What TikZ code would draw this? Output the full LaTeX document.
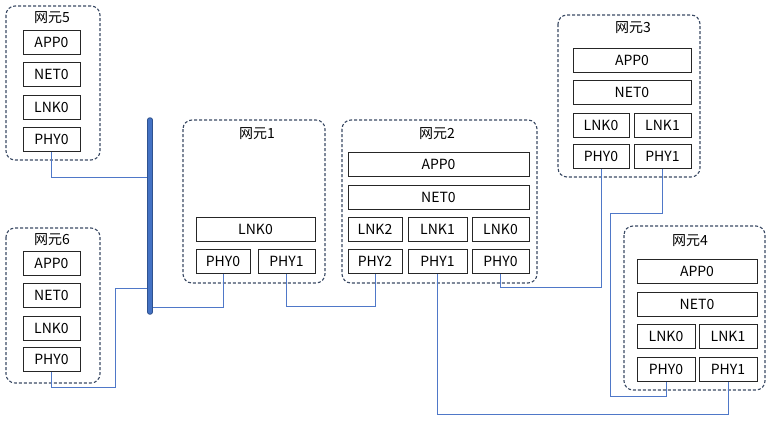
\documentclass[tikz,border=0pt]{standalone}
\usepackage{fontspec}
\setmainfont{Noto Sans CJK SC}
\usetikzlibrary{calc}
\definecolor{nebord}{RGB}{58,74,100}
\definecolor{linkblue}{RGB}{79,120,200}
\definecolor{busblue}{RGB}{68,114,196}
\definecolor{busedge}{RGB}{47,82,143}
\tikzset{
  layer/.style={draw=black!85, line width=0.8pt, minimum height=24pt, inner sep=0pt, font=\fontsize{14}{14}\selectfont},
  nebox/.style={draw=nebord, line width=1.1pt, dash pattern=on 3pt off 2pt, rounded corners=9pt},
  netitle/.style={inner sep=0pt, font=\fontsize{14}{14}\selectfont},
  link/.style={draw=linkblue, line width=0.9pt},
}

\begin{document}
\begin{tikzpicture}[x=1pt, y=-1pt]
			%%%%% START %%%%%
			\useasboundingbox (0,0) rectangle (771,423);
			
			% 网元5
			\draw[nebox] (6,6) rectangle (100,160);
			\node[netitle] (t5) at (52,18) {网元5};
			\node[layer, minimum width=57pt] (n5app) at (51.5,42.5) {APP0};
			\node[layer, minimum width=57pt] (n5net) at (51.5,74.5) {NET0};
			\node[layer, minimum width=57pt] (n5lnk) at (51.5,107.5) {LNK0};
			\node[layer, minimum width=57pt] (n5phy) at (51.5,139.5) {PHY0};
			
			% 网元6
			\draw[nebox] (6,228) rectangle (100,383);
			\node[netitle] (t6) at (52,240) {网元6};
			\node[layer, minimum width=57pt] (n6app) at (51.5,263) {APP0};
			\node[layer, minimum width=57pt] (n6net) at (51.5,295) {NET0};
			\node[layer, minimum width=57pt] (n6lnk) at (51.5,328) {LNK0};
			\node[layer, minimum width=57pt] (n6phy) at (51.5,359.5) {PHY0};
			
			% 网元1
			\draw[nebox] (183,120) rectangle (325,283);
			\node[netitle] (t1) at (257,134) {网元1};
			\node[layer, minimum width=119pt] (n1lnk0) at (255.5,229.5) {LNK0};
			\node[layer, minimum width=54pt] (n1phy0) at (223,261.5) {PHY0};
			\node[layer, minimum width=57pt] (n1phy1) at (286.5,261.5) {PHY1};
			
			% 网元2
			\draw[nebox] (342,120) rectangle (537,283);
			\node[netitle] (t2) at (437,134) {网元2};
			\node[layer, minimum width=181pt] (n2app) at (438.5,164.5) {APP0};
			\node[layer, minimum width=181pt] (n2net) at (438.5,197) {NET0};
			\node[layer, minimum width=54pt] (n2lnk2) at (375,229.5) {LNK2};
			\node[layer, minimum width=59pt] (n2lnk1) at (437.5,229.5) {LNK1};
			\node[layer, minimum width=57pt] (n2lnk0) at (500.5,229.5) {LNK0};
			\node[layer, minimum width=54pt] (n2phy2) at (375,261.5) {PHY2};
			\node[layer, minimum width=59pt] (n2phy1) at (437.5,261.5) {PHY1};
			\node[layer, minimum width=57pt] (n2phy0) at (500.5,261.5) {PHY0};
			
			% 网元3
			\draw[nebox] (558,15) rectangle (700,177);
			\node[netitle] (t3) at (633,28) {网元3};
			\node[layer, minimum width=118pt] (n3app) at (632,60) {APP0};
			\node[layer, minimum width=118pt] (n3net) at (632,92) {NET0};
			\node[layer, minimum width=56pt] (n3lnk0) at (601,125) {LNK0};
			\node[layer, minimum width=57pt] (n3lnk1) at (662.5,125) {LNK1};
			\node[layer, minimum width=56pt] (n3phy0) at (601,156.5) {PHY0};
			\node[layer, minimum width=57pt] (n3phy1) at (662.5,156.5) {PHY1};
			
			% 网元4
			\draw[nebox] (624,226) rectangle (765,390);
			\node[netitle] (t4) at (690,241) {网元4};
			\node[layer, minimum width=120pt] (n4app) at (697,271.5) {APP0};
			\node[layer, minimum width=120pt] (n4net) at (697,304) {NET0};
			\node[layer, minimum width=58pt] (n4lnk0) at (666,336.5) {LNK0};
			\node[layer, minimum width=58pt] (n4lnk1) at (728,336.5) {LNK1};
			\node[layer, minimum width=58pt] (n4phy0) at (666,369.5) {PHY0};
			\node[layer, minimum width=58pt] (n4phy1) at (728,369.5) {PHY1};
			
			% bus taps
			\coordinate (bustop) at (150,120);
			\coordinate (busbot) at (150,312);
			\coordinate (tap5) at (150,177);
			\coordinate (tap6) at (150,288);
			\coordinate (tap1) at (150,307);
			\coordinate (jog6) at (115,387);
			\coordinate (jog3a) at (610,213);
			\coordinate (jog3b) at (610,396);
			
			% links
			\draw[link] (n5phy.south) |- (tap5);
			\draw[link] (n6phy.south) |- (jog6) |- (tap6);
			\draw[link] (tap1) -| (n1phy0.south);
			\draw[link] (n1phy1.south) -- ++(0,33) -| (n2phy2.south);
			\draw[link] (n2phy0.south) -- ++(0,14) -| (n3phy0.south);
			\draw[link] (n2phy1.south) -- ++(0,141) -| (n4phy1.south);
			\draw[link] (n3phy1.south) |- (jog3a) -- (jog3b) -| (n4phy0.south);
			
			% bus
			\draw[line width=5.5pt, color=busedge, line cap=round] (bustop) -- (busbot);
			\draw[line width=3.5pt, color=busblue, line cap=round] (bustop) -- (busbot);
			
			%%%%% END %%%%%
\end{tikzpicture}
\end{document}
